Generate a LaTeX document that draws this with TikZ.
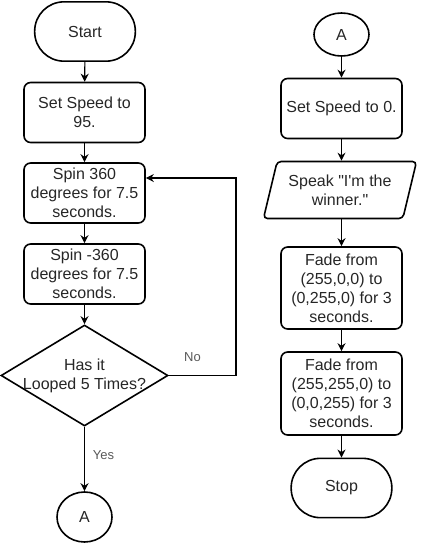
\documentclass[tikz,border=0pt]{standalone}
\usepackage{fontspec}
\newfontfamily\flowfont{Liberation Sans}
\usetikzlibrary{shapes.geometric}
\usetikzlibrary{arrows.meta}

\tikzset{
    base/.style={draw, line width=1.2pt, align=center, text=black!85, inner sep=1pt,
        font=\flowfont\fontsize{12pt}{14.25pt}\selectfont},
    terminal/.style={base, rectangle, rounded corners=22pt, minimum width=75.5pt, minimum height=44.5pt},
    process/.style={base, rectangle, rounded corners=5pt, minimum width=90.75pt, minimum height=45pt},
    io/.style={base, trapezium, trapezium left angle=71, trapezium right angle=109,
        trapezium stretches=true, rounded corners=3pt, minimum width=115.5pt, minimum height=42.75pt},
    decision/.style={base, diamond, shape aspect=1.65, inner sep=-4pt, minimum width=125.25pt, minimum height=75.75pt},
    connector/.style={base, ellipse, inner sep=0pt, minimum width=41.25pt, minimum height=32.25pt},
    arrow/.style={-{Stealth[length=6pt, width=6pt]}, line width=0.8pt},
    lbl/.style={text=black!65, font=\flowfont\fontsize{9.75pt}{11pt}\selectfont}
}

\begin{document}
\begin{tikzpicture}[x=0.75pt, y=-0.75pt]
    \useasboundingbox (0, 0) rectangle (422, 543);
    \node[terminal] (start) at (85, 31.5) {Start};
    \node[process] (speed) at (84.5, 112.5) {Set Speed to\\95.};
    \node[process] (spinfwd) at (84.5, 193) {Spin 360\\degrees for 7.5\\seconds.};
    \node[process] (spinback) at (84.5, 274) {Spin -360\\degrees for 7.5\\seconds.};
    \node[decision] (looped) at (84.5, 375.5) {Has it\\Looped 5 Times?};
    \node[connector, minimum height=37.5pt] (toA) at (84.5, 517) {A};
    \node[lbl] (no) at (192.5, 357) {No};
    \node[lbl] (yes) at (103.5, 455) {Yes};
    \coordinate (back) at (236, 178);
    \draw[arrow] (start) -- (speed);
    \draw[arrow] (speed) -- (spinfwd);
    \draw[arrow] (spinfwd) -- (spinback);
    \draw[arrow] (spinback) -- (looped);
    \draw[arrow] (looped) -- (toA);
    \draw[arrow] (looped.east) -| (back) -- (back -| spinfwd.east);

    \node[connector] (fromA) at (341.5, 34.5) {A};
    \node[process] (halt) at (341.5, 108.5) {Set Speed to 0.};
    \node[io] (speak) at (340, 190) {Speak "I'm the\\winner."};
    \node[process, minimum height=61.5pt] (fadegreen) at (341.5, 288) {Fade from\\(255,0,0) to\\(0,255,0) for 3\\seconds.};
    \node[process, minimum height=62.25pt] (fadeblue) at (341.5, 393.5) {Fade from\\(255,255,0) to\\(0,0,255) for 3\\seconds.};
    \node[terminal] (stop) at (341.5, 488) {Stop};
    \draw[arrow] (fromA) -- (halt);
    \draw[arrow] (halt.south) -- (halt.south |- speak.north);
    \draw[arrow] (fadegreen.north |- speak.south) -- (fadegreen.north);
    \draw[arrow] (fadegreen) -- (fadeblue);
    \draw[arrow] (fadeblue) -- (stop);
\end{tikzpicture}
\end{document}
